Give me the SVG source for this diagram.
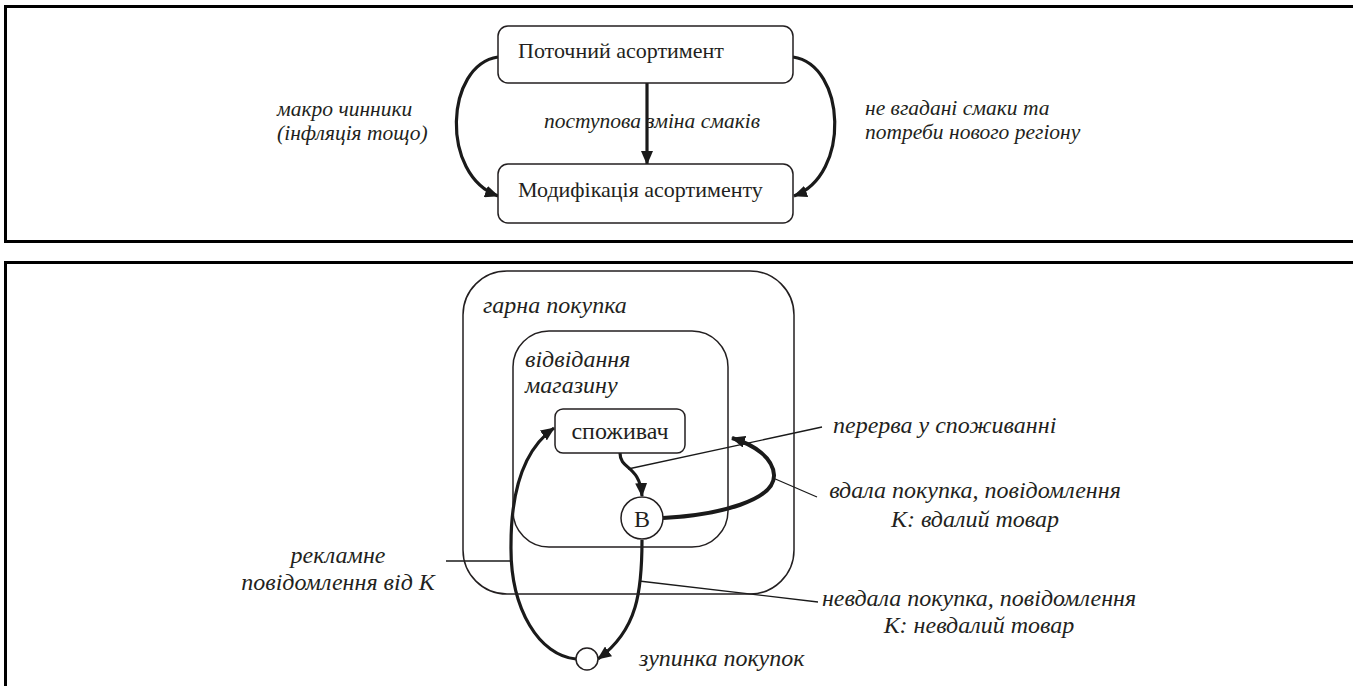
<svg xmlns="http://www.w3.org/2000/svg" width="1353" height="686" viewBox="0 0 1353 686">
<defs>
<style>
.panel{fill:none;stroke:#000;stroke-width:3}
.box{fill:#fff;stroke:#231f20;stroke-width:1.5}
.cont{fill:none;stroke:#231f20;stroke-width:1.5}
.t{font-family:"Liberation Serif","DejaVu Serif",serif;font-size:22px;fill:#231f20}
.tb{font-family:"Liberation Serif","DejaVu Serif",serif;font-size:24px;fill:#231f20}
.i{font-family:"Liberation Serif","DejaVu Serif",serif;font-size:21.5px;font-style:italic;fill:#231f20}
.ib{font-family:"Liberation Serif","DejaVu Serif",serif;font-size:24px;font-style:italic;fill:#231f20}
.arr{fill:none;stroke:#1a1a1a;stroke-width:3.2}
.arr4{fill:none;stroke:#1a1a1a;stroke-width:4}
.ptr{fill:none;stroke:#1a1a1a;stroke-width:1.3}
</style>
<marker id="ah" viewBox="0 0 14 12" refX="13" refY="6" markerWidth="14" markerHeight="12" markerUnits="userSpaceOnUse" orient="auto">
<path d="M0,0 L14,6 L0,12 z" fill="#1a1a1a"/>
</marker>
</defs>
<rect x="0" y="0" width="1353" height="686" fill="#fff"/>
<rect class="panel" x="5.5" y="6.5" width="1360" height="235"/>
<rect class="panel" x="5.5" y="262.5" width="1360" height="440"/>

<g id="connectors">
<path class="arr" d="M647,83 L647,164" marker-end="url(#ah)"/>
<path class="arr" d="M498,57 C445,65 440,175 498,196" marker-end="url(#ah)"/>
<path class="arr" d="M793,57 C846,65 851,175 794,196" marker-end="url(#ah)"/>
<path class="arr" d="M620,453 C620,470 640,465 642,496" marker-end="url(#ah)"/>
<path class="arr4" d="M663,518 C720,515 775,500 774,475 C773,458 755,445 732,438" marker-end="url(#ah)"/>
<path class="arr" d="M642,540 C642,590 638,630 598,659" marker-end="url(#ah)"/>
<path class="arr" d="M576,659 C540,656 510,610 511,545 C511,480 530,445 554,428" marker-end="url(#ah)"/>
<line class="ptr" x1="628" y1="469" x2="822" y2="427"/>
<line class="ptr" x1="773" y1="478" x2="817" y2="497"/>
<line class="ptr" x1="639" y1="581" x2="818" y2="602"/>
<line class="ptr" x1="446" y1="561" x2="511" y2="561"/>
</g>

<g id="lbl-top">
<text class="i" x="652" y="128" text-anchor="middle">поступова зміна смаків</text>
<text class="i" x="277" y="116">макро чинники</text>
<text class="i" x="277" y="140">(інфляція тощо)</text>
<text class="i" x="865" y="115">не вгадані смаки та</text>
<text class="i" x="865" y="139">потреби нового регіону</text>
</g>

<g id="node-current">
<rect class="box" x="498" y="26" width="295" height="57" rx="10"/>
<text class="t" x="518" y="58">Поточний асортимент</text>
</g>
<g id="node-modified">
<rect class="box" x="498" y="164" width="295" height="59" rx="10"/>
<text class="t" x="518" y="197">Модифікація асортименту</text>
</g>

<g id="node-good-purchase">
<rect class="cont" x="463" y="271" width="331" height="323" rx="44"/>
<text class="ib" x="483" y="313">гарна покупка</text>
</g>
<g id="node-store-visit">
<rect class="cont" x="513" y="331" width="215" height="216" rx="36"/>
<text class="ib" x="525" y="367">відвідання</text>
<text class="ib" x="525" y="393">магазину</text>
</g>
<g id="node-consumer">
<rect class="box" x="555" y="409" width="130" height="44" rx="8"/>
<text class="tb" x="620" y="439" text-anchor="middle">споживач</text>
</g>
<g id="node-b">
<circle class="box" cx="642" cy="518" r="21"/>
<text class="tb" x="642" y="527" text-anchor="middle">В</text>
</g>
<g id="node-stop">
<circle class="box" cx="587" cy="659" r="11"/>
</g>

<g id="lbl-bottom">
<text class="ib" x="833" y="433">перерва у споживанні</text>
<text class="ib" x="975" y="498" text-anchor="middle">вдала покупка, повідомлення</text>
<text class="ib" x="975" y="527" text-anchor="middle">К: вдалий товар</text>
<text class="ib" x="979" y="606" text-anchor="middle">невдала покупка, повідомлення</text>
<text class="ib" x="979" y="633" text-anchor="middle">К: невдалий товар</text>
<text class="ib" x="338" y="563" text-anchor="middle">рекламне</text>
<text class="ib" x="338" y="590" text-anchor="middle">повідомлення від К</text>
<text class="ib" x="639" y="666">зупинка покупок</text>
</g>
</svg>
